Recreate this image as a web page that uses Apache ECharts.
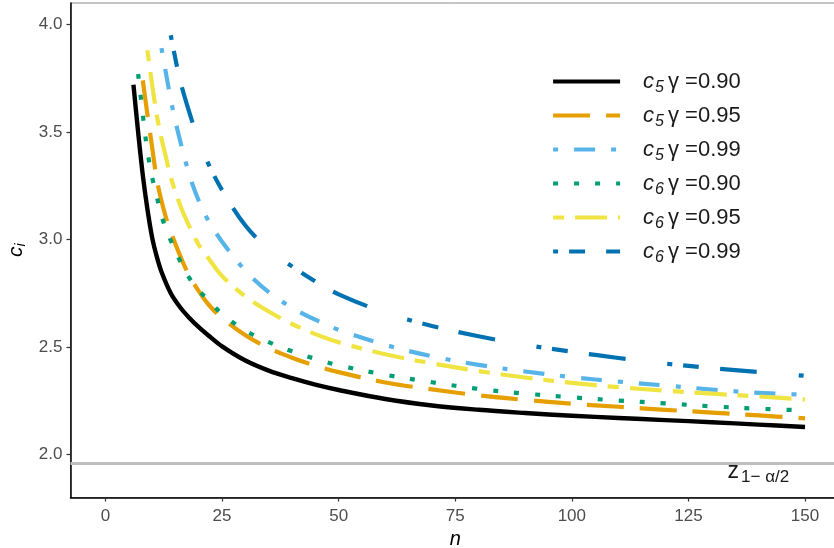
<!DOCTYPE html>
<html><head><meta charset="utf-8">
<script src="https://cdn.jsdelivr.net/npm/echarts@6/dist/echarts.min.js"></script>
<style>html,body{margin:0;padding:0;background:#fff}#c{width:834px;height:548px}</style>
</head><body><div id="c"></div>
<script>
// ---- data ----
const xTicks = [0, 25, 50, 75, 100, 125, 150];
const yTicks = [2.0, 2.5, 3.0, 3.5, 4.0];
const zLine = 1.96;
const zLabelPos = [140, 1.92];

const legendSub = ['5', '5', '5', '6', '6', '6'];
const legendGamma = ['0.90', '0.95', '0.99', '0.90', '0.95', '0.99'];

const n_c5_090 = [6,7,8,9,10,11,12,14,16,18,20,22,25,30,35,40,45,50,60,70,80,90,100,110,120,130,140,150];
const c_c5_090 = [3.72,3.50,3.30,3.14,3.01,2.92,2.85,2.75,2.685,2.635,2.592,2.555,2.503,2.437,2.39,2.355,2.325,2.30,2.258,2.228,2.208,2.193,2.18,2.17,2.16,2.15,2.139,2.128];

const n_c5_095 = [8,9,10,11,12,13,14,16,18,20,22,25,30,35,40,45,50,60,70,80,90,100,110,120,130,140,150];
const c_c5_095 = [3.74,3.58,3.43,3.28,3.18,3.10,3.035,2.925,2.83,2.76,2.70,2.635,2.555,2.495,2.45,2.413,2.383,2.335,2.303,2.275,2.254,2.236,2.222,2.208,2.195,2.182,2.168];

const n_c5_099 = [12,13,14,15,16,18,20,22,25,30,35,40,45,50,60,70,80,90,100,110,120,130,140,150];
const c_c5_099 = [3.89,3.77,3.65,3.55,3.46,3.30,3.18,3.09,2.99,2.855,2.755,2.683,2.627,2.58,2.51,2.457,2.417,2.386,2.36,2.339,2.321,2.302,2.287,2.278];

const n_c6_090 = [7,8,9,10,11,12,13,14,16,18,20,22,25,30,35,40,45,50,60,70,80,90,100,110,120,130,140,150];
const c_c6_090 = [3.77,3.58,3.41,3.29,3.20,3.11,3.05,2.995,2.90,2.82,2.763,2.72,2.654,2.577,2.523,2.48,2.445,2.415,2.371,2.336,2.305,2.283,2.266,2.251,2.238,2.224,2.213,2.205];

const n_c6_095 = [9,10,11,12,13,14,16,18,20,22,25,30,35,40,45,50,60,70,80,90,100,110,120,130,140,150];
const c_c6_095 = [3.88,3.72,3.58,3.47,3.38,3.29,3.16,3.06,2.975,2.915,2.83,2.735,2.665,2.607,2.56,2.522,2.466,2.424,2.388,2.358,2.333,2.313,2.297,2.283,2.27,2.256];

const n_c6_099 = [14,15,16,18,20,22,25,30,35,40,45,50,60,70,80,90,100,110,120,130,140,150];
const c_c6_099 = [3.95,3.84,3.74,3.59,3.46,3.355,3.23,3.065,2.955,2.875,2.805,2.745,2.66,2.598,2.55,2.51,2.478,2.449,2.423,2.402,2.384,2.366];

// ---- styles ----
const colors = ['#000000', '#E69F00', '#56B4E9', '#009E73', '#F0E442', '#0072B2'];
const dashes = ['solid', [37, 16], [5, 16, 21, 16], [5, 16], [11, 11, 32, 11], [5, 11, 16, 21, 37, 42]];
const widths = [4.4, 4.2, 4.2, 4.2, 4.2, 4.2];

const nArr = [n_c5_090, n_c5_095, n_c5_099, n_c6_090, n_c6_095, n_c6_099];
const cArr = [c_c5_090, c_c5_095, c_c5_099, c_c6_090, c_c6_095, c_c6_099];
const names = legendSub.map((s, i) => 'c' + s + ' γ=' + legendGamma[i]);

const FONT = '"Liberation Sans", Arial, sans-serif';

const series = names.map((nm, i) => ({
  type: 'line',
  name: nm,
  data: nArr[i].map((n, k) => [n, cArr[i][k]]),
  showSymbol: false,
  symbol: 'none',
  smooth: 0.35,
  color: colors[i],
  lineStyle: { color: colors[i], width: widths[i], type: dashes[i], cap: 'butt', join: 'round' },
  z: 3 + i,
  animation: false
}));

series.unshift({
  type: 'line',
  name: 'ref',
  data: [],
  silent: true,
  animation: false,
  z: 1,
  markLine: {
    silent: true,
    symbol: 'none',
    animation: false,
    label: { show: false },
    lineStyle: { color: '#BEBEBE', width: 3, type: 'solid' },
    data: [{ yAxis: zLine }]
  },
  markPoint: {
    silent: true,
    animation: false,
    symbol: 'rect',
    symbolSize: 1,
    itemStyle: { color: 'rgba(0,0,0,0)' },
    label: {
      show: true,
      position: 'inside',
      formatter: '{z|z}{s|1− α/2}',
      rich: {
        z: { fontSize: 23, fontFamily: FONT, color: '#1a1a1a', lineHeight: 28 },
        s: { fontSize: 17, fontFamily: FONT, color: '#1a1a1a', verticalAlign: 'bottom', padding: [0, 0, 0, 2] }
      }
    },
    data: [{ coord: zLabelPos }]
  }
});

const chart = echarts.init(document.getElementById('c'), null, { renderer: 'canvas' });
chart.setOption({
  backgroundColor: '#ffffff',
  animation: false,
  grid: { left: 70.5, right: -6, top: 3, bottom: 50.5, outerBoundsMode: 'none', containLabel: false,
          show: true, borderColor: '#8a8a8a', borderWidth: 1, backgroundColor: 'rgba(0,0,0,0)' },
  xAxis: {
    type: 'value', min: -7.5, max: 157.5,
    name: 'n', nameLocation: 'middle', nameGap: 24,
    nameTextStyle: { fontFamily: FONT, fontStyle: 'italic', fontSize: 20, color: '#000' },
    axisLine: { show: true, onZero: false, lineStyle: { color: '#000', width: 1.5 } },
    axisTick: { show: true, length: 4, lineStyle: { color: '#333', width: 1.2 }, customValues: xTicks },
    axisLabel: { customValues: xTicks, margin: 10, fontFamily: FONT, fontSize: 17, color: '#4D4D4D' },
    splitLine: { show: false }
  },
  yAxis: {
    type: 'value', min: 1.8, max: 4.1,
    name: '{c|c}{i|i}', nameLocation: 'middle', nameGap: 39, nameRotate: 90,
    nameTextStyle: {
      rich: {
        c: { fontFamily: FONT, fontStyle: 'italic', fontSize: 21, color: '#000', lineHeight: 24 },
        i: { fontFamily: FONT, fontStyle: 'italic', fontSize: 14, color: '#000', verticalAlign: 'bottom' }
      }
    },
    axisLine: { show: true, onZero: false, lineStyle: { color: '#000', width: 1.5 } },
    axisTick: { show: true, length: 4, lineStyle: { color: '#333', width: 1.2 }, customValues: yTicks },
    axisLabel: { customValues: yTicks, margin: 8, fontFamily: FONT, fontSize: 17, color: '#4D4D4D',
      formatter: v => Number(v).toFixed(1) },
    splitLine: { show: false }
  },
  legend: {
    data: names,
    orient: 'vertical',
    left: 551, top: 70.5,
    padding: 0,
    itemWidth: 67, itemHeight: 14, itemGap: 9,
    itemStyle: { opacity: 0 },
    lineStyle: { width: 4.2 },
    formatter: function (name) {
      const i = names.indexOf(name);
      return '{sp| }{c|c}{s|' + legendSub[i] + '}{g|γ}{t| =' + legendGamma[i] + '}';
    },
    textStyle: {
      fontFamily: FONT,
      rich: {
        sp: { width: 18, fontSize: 22, lineHeight: 28 },
        c: { fontFamily: FONT, fontStyle: 'italic', fontSize: 22, lineHeight: 28, color: '#1a1a1a' },
        s: { fontFamily: FONT, fontStyle: 'italic', fontSize: 16, color: '#1a1a1a', verticalAlign: 'bottom', padding: [0, 0, 0, 1] },
        g: { fontFamily: FONT, fontSize: 22, lineHeight: 28, color: '#1a1a1a', padding: [0, 0, 0, 4] },
        t: { fontFamily: FONT, fontSize: 22, lineHeight: 28, color: '#1a1a1a' }
      }
    },
    selectedMode: false
  },
  series: series
});
</script>
</body></html>
